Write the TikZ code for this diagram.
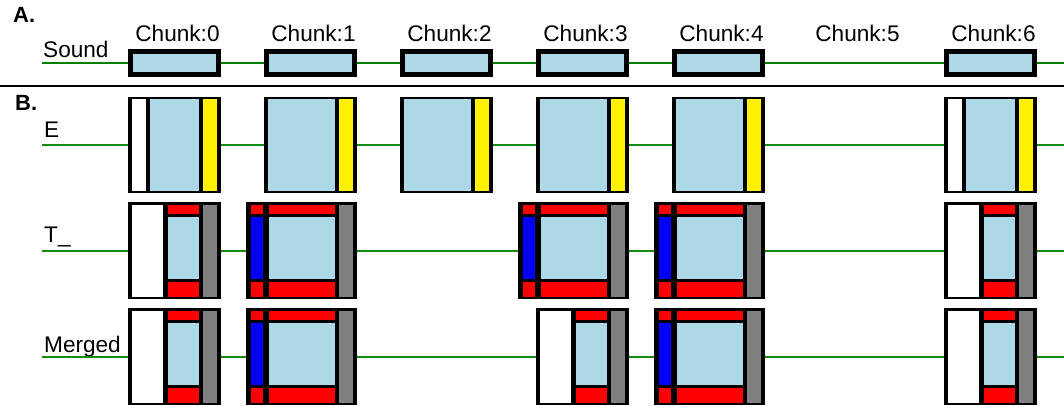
\documentclass[tikz,border=0pt]{standalone}
\usepackage{fontspec}
\setmainfont{Liberation Sans}
\definecolor{lb}{RGB}{173,216,230}
\definecolor{gr}{RGB}{128,128,128}
\definecolor{sndgreen}{RGB}{0,128,0}
\definecolor{rowgreen}{RGB}{20,140,20}
\newcommand\SoundBox[1]{\begin{scope}[shift={(#1,0)}]
  \fill[black] (0,49.5) rectangle (93,77.5);
  \fill[lb] (5,54.5) rectangle (88,72.5);
\end{scope}}
\newcommand\Ewhite[1]{\begin{scope}[shift={(#1,97)}]
  \fill[black] (0,0) rectangle (93,96);
  \fill[white] (4,2.5) rectangle (18,93.5);
  \fill[lb] (22,2.5) rectangle (71,93.5);
  \fill[yellow] (75,2.5) rectangle (89,93.5);
\end{scope}}
\newcommand\Ebare[1]{\begin{scope}[shift={(#1,97)}]
  \fill[black] (0,0) rectangle (93,96);
  \fill[lb] (4,2.5) rectangle (71,93.5);
  \fill[yellow] (75,2.5) rectangle (89,93.5);
\end{scope}}
\newcommand\Twhite[2]{\begin{scope}[shift={(#1,#2)}]
  \fill[black] (0,0) rectangle (93,97);
  \fill[white] (4,3) rectangle (35,95);
  \fill[red] (40,3) rectangle (71,12);
  \fill[lb] (40,15) rectangle (71,77);
  \fill[red] (40,80) rectangle (71,95);
  \fill[gr] (75,3) rectangle (89,95);
\end{scope}}
\newcommand\Tblue[2]{\begin{scope}[shift={(#1,#2)}]
  \fill[black] (-18,0) rectangle (93,97);
  \fill[red] (-13,3) rectangle (-1,12);
  \fill[blue] (-13,15) rectangle (-1,77);
  \fill[red] (-13,80) rectangle (-1,95);
  \fill[red] (5,3) rectangle (71,12);
  \fill[lb] (5,15) rectangle (71,77);
  \fill[red] (5,80) rectangle (71,95);
  \fill[gr] (75,3) rectangle (89,95);
\end{scope}}
\begin{document}
\begin{tikzpicture}[x=1pt,y=-1pt,
  every node/.style={inner sep=0pt, font=\fontsize{22.6}{26}\selectfont},
  sndline/.style={draw=sndgreen, line width=1.6pt},
  rowline/.style={draw=rowgreen, line width=1.2pt},
  sepline/.style={draw=black, line width=1.6pt}]
\useasboundingbox (0,0) rectangle (1064,406);
% section labels
\node (lblA) [anchor=base west, font=\fontsize{22}{26}\selectfont\bfseries] at (13,23) {A.};
\node (lblB) [anchor=base west, font=\fontsize{22}{26}\selectfont\bfseries] at (15,111) {B.};
% row labels
\node (lblSound) [anchor=base west] at (43,58) {Sound};
\node (lblE) [anchor=base west] at (44,138) {E};
\node (lblT) [anchor=base west] at (44,242) {T\_};
\node (lblM) [anchor=base west] at (44,352) {Merged};
% lines
\coordinate (sL) at (42,63); \coordinate (sR) at (1064,63);
\coordinate (pL) at (0,86); \coordinate (pR) at (1064,86);
\coordinate (eL) at (42,145); \coordinate (eR) at (1064,145);
\coordinate (tL) at (42,251); \coordinate (tR) at (1064,251);
\coordinate (mL) at (42,357); \coordinate (mR) at (1064,357);
\draw[sndline] (sL) -- (sR);
\draw[sepline] (pL) -- (pR);
\draw[rowline] (eL) -- (eR);
\draw[rowline] (tL) -- (tR);
\draw[rowline] (mL) -- (mR);
% chunk labels
\foreach \k/\x in {0/128,1/264,2/400,3/536,4/672,5/808,6/944}{
  \node (ch\k) [anchor=base] at (\x+49.5,42) {Chunk:\k};
}
% sound boxes
\foreach \x in {128,264,400,536,672,944}{\SoundBox{\x}}
% E row
\Ewhite{128}
\Ebare{264}
\Ebare{400}
\Ebare{536}
\Ebare{672}
\Ewhite{944}
% T_ row
\Twhite{128}{202}
\Tblue{264}{202}
\Tblue{536}{202}
\Tblue{672}{202}
\Twhite{944}{202}
% Merged row
\Twhite{128}{308}
\Tblue{264}{308}
\Twhite{536}{308}
\Tblue{672}{308}
\Twhite{944}{308}
\end{tikzpicture}
\end{document}
